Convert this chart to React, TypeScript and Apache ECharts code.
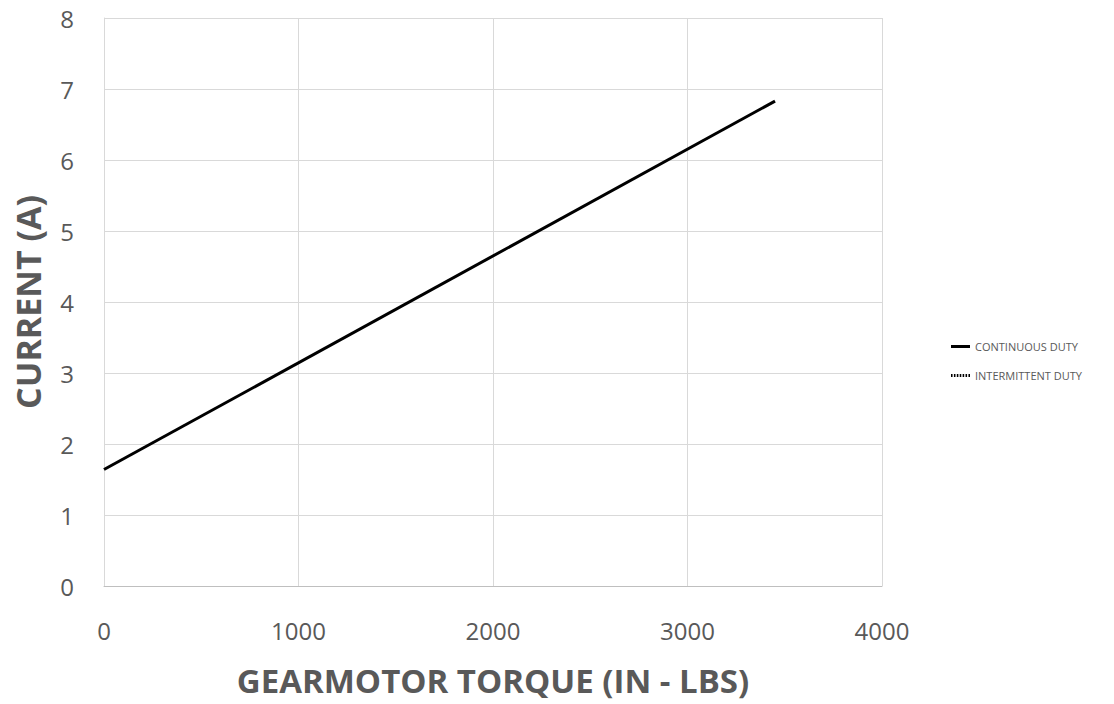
import React, { useEffect, useRef } from "react";
import * as echarts from "echarts";

const continuousTorque = [0, 3450];
const continuousCurrent = [1.64, 6.83];
const intermittentTorque: number[] = [];
const intermittentCurrent: number[] = [];
const seriesNames = ["CONTINUOUS DUTY", "INTERMITTENT DUTY"];
const xTitle = "GEARMOTOR TORQUE (IN - LBS)";
const yTitle = "CURRENT (A)";

const solidIcon = "path://M0,0H19V3H0Z";
const dottedIcon =
  "path://M0,0h1.6v3h-1.6z M3,0h1.6v3h-1.6z M6,0h1.6v3h-1.6z M9,0h1.6v3h-1.6z M12,0h1.6v3h-1.6z M15,0h1.6v3h-1.6z M18,0h1.6v3h-1.6z";

export default function App() {
  const ref = useRef<HTMLDivElement>(null);
  useEffect(() => {
    if (!ref.current) return;
    const chart = echarts.init(ref.current, undefined, { renderer: "svg" });
    const font = "'Open Sans', 'Liberation Sans', sans-serif";
    chart.setOption({
      animation: false,
      backgroundColor: "#ffffff",
      textStyle: { fontFamily: font },
      grid: {
        left: 104,
        top: 18,
        right: 232,
        bottom: 118,
        containLabel: false,
        outerBoundsMode: "none",
      },
      legend: {
        orient: "vertical",
        left: 951,
        top: 339,
        padding: 0,
        itemWidth: 19,
        itemHeight: 3,
        itemGap: 14,
        data: [
          { name: seriesNames[0], icon: solidIcon },
          { name: seriesNames[1], icon: dottedIcon },
        ],
        textStyle: { fontSize: 11, color: "#595959", fontFamily: font, lineHeight: 15 },
      },
      xAxis: {
        type: "value",
        min: 0,
        max: 4000,
        interval: 1000,
        name: xTitle,
        nameLocation: "middle",
        nameGap: 78,
        nameTextStyle: { fontSize: 33, fontWeight: "bold", color: "#595959", fontFamily: font },
        axisLine: { show: true, lineStyle: { color: "#bfbfbf", width: 1 } },
        axisTick: { show: false },
        axisLabel: {
          fontSize: 24,
          color: "#595959",
          margin: 32,
          fontFamily: font,
          formatter: (v: number) => String(v),
        },
        splitLine: { show: true, lineStyle: { color: "#d9d9d9", width: 1 } },
      },
      yAxis: {
        type: "value",
        min: 0,
        max: 8,
        interval: 1,
        name: yTitle,
        nameLocation: "middle",
        nameGap: 59,
        nameRotate: 90,
        nameTextStyle: { fontSize: 34, fontWeight: "bold", color: "#595959", fontFamily: font },
        axisLine: { show: true, lineStyle: { color: "#d9d9d9", width: 1 } },
        axisTick: { show: false },
        axisLabel: { fontSize: 24, color: "#595959", margin: 30, fontFamily: font },
        splitLine: { show: true, lineStyle: { color: "#d9d9d9", width: 1 } },
      },
      series: [
        {
          name: seriesNames[0],
          type: "line",
          data: continuousTorque.map((x, i) => [x, continuousCurrent[i]]),
          showSymbol: false,
          symbol: "none",
          lineStyle: { color: "#000000", width: 3, type: "solid" },
          itemStyle: { color: "#000000" },
        },
        {
          name: seriesNames[1],
          type: "line",
          data: intermittentTorque.map((x, i) => [x, intermittentCurrent[i]]),
          showSymbol: false,
          symbol: "none",
          lineStyle: { color: "#000000", width: 2, type: [2, 3] },
          itemStyle: { color: "#000000" },
        },
      ],
    });
    return () => chart.dispose();
  }, []);
  return <div ref={ref} style={{ width: 1114, height: 704, position: "absolute", left: 0, top: 0 }} />;
}
